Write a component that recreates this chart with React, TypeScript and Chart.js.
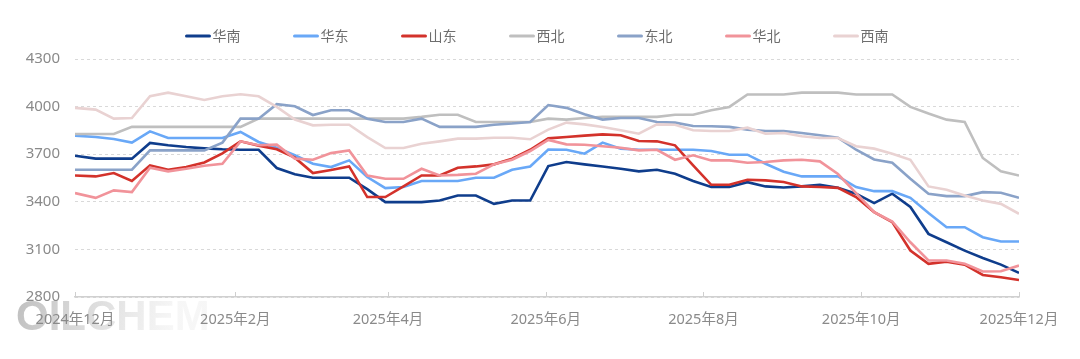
import React, { useEffect, useRef } from 'react';
import { Chart, registerables } from 'chart.js';

Chart.register(...registerables);

// Observation dates (first point, then weekly)
const dates = [
  '2024-12-01', '2024-12-09', '2024-12-16', '2024-12-23', '2024-12-30',
  '2025-01-06', '2025-01-13', '2025-01-20', '2025-01-27',
  '2025-02-03', '2025-02-10', '2025-02-17', '2025-02-24',
  '2025-03-03', '2025-03-10', '2025-03-17', '2025-03-24', '2025-03-31',
  '2025-04-07', '2025-04-14', '2025-04-21', '2025-04-28',
  '2025-05-05', '2025-05-12', '2025-05-19', '2025-05-26',
  '2025-06-02', '2025-06-09', '2025-06-16', '2025-06-23', '2025-06-30',
  '2025-07-07', '2025-07-14', '2025-07-21', '2025-07-28',
  '2025-08-04', '2025-08-11', '2025-08-18', '2025-08-25',
  '2025-09-01', '2025-09-08', '2025-09-15', '2025-09-22', '2025-09-29',
  '2025-10-06', '2025-10-13', '2025-10-20', '2025-10-27',
  '2025-11-03', '2025-11-10', '2025-11-17', '2025-11-24',
  '2025-12-01',
];

const monthTickDates = ['2024-12-01', '2025-02-01', '2025-04-01', '2025-06-01', '2025-08-01', '2025-10-01', '2025-12-01'];
const monthTickLabels = ['2024年12月', '2025年2月', '2025年4月', '2025年6月', '2025年8月', '2025年10月', '2025年12月'];

const yMin = 2800;
const yMax = 4300;
const yStep = 300;

const seriesNames = ['华南', '华东', '山东', '西北', '东北', '华北', '西南'];
const seriesColors = ['#0f3d8c', '#69a8f7', '#d3322b', '#bfbfbf', '#8aa2c8', '#f1939a', '#e9d2d2'];

const huanan = [3690, 3672, 3672, 3672, 3771, 3756, 3745, 3737, 3731, 3728, 3728, 3613, 3573, 3552, 3552, 3552, 3480, 3398, 3398, 3398, 3408, 3440, 3440, 3387, 3408, 3408, 3625, 3651, 3636, 3623, 3608, 3592, 3602, 3577, 3531, 3493, 3493, 3524, 3497, 3490, 3497, 3507, 3488, 3451, 3392, 3451, 3367, 3198, 3145, 3092, 3046, 3004, 2952];
const huadong = [3817, 3808, 3796, 3773, 3844, 3802, 3802, 3802, 3802, 3840, 3777, 3741, 3693, 3640, 3619, 3661, 3556, 3486, 3493, 3531, 3531, 3531, 3552, 3552, 3602, 3623, 3730, 3728, 3703, 3773, 3735, 3728, 3728, 3728, 3728, 3720, 3697, 3697, 3640, 3590, 3560, 3560, 3560, 3493, 3467, 3467, 3425, 3329, 3240, 3240, 3177, 3150, 3150];
const shandong = [3566, 3560, 3581, 3531, 3630, 3602, 3619, 3648, 3705, 3781, 3754, 3731, 3678, 3581, 3600, 3623, 3430, 3430, 3497, 3566, 3566, 3615, 3623, 3636, 3672, 3728, 3800, 3808, 3817, 3825, 3819, 3783, 3781, 3756, 3630, 3507, 3507, 3539, 3535, 3525, 3497, 3493, 3488, 3430, 3335, 3272, 3093, 3009, 3023, 3004, 2939, 2924, 2907];
const xibei = [3827, 3827, 3827, 3872, 3872, 3872, 3872, 3872, 3872, 3872, 3924, 3924, 3924, 3924, 3924, 3924, 3924, 3924, 3924, 3935, 3949, 3949, 3903, 3903, 3903, 3903, 3924, 3918, 3928, 3935, 3935, 3935, 3935, 3949, 3949, 3977, 3998, 4076, 4076, 4076, 4088, 4088, 4088, 4076, 4076, 4076, 3998, 3956, 3918, 3903, 3676, 3592, 3566];
const dongbei = [3602, 3602, 3602, 3602, 3724, 3724, 3724, 3724, 3773, 3924, 3924, 4015, 4002, 3947, 3977, 3977, 3924, 3903, 3903, 3924, 3872, 3872, 3872, 3886, 3893, 3903, 4010, 3992, 3952, 3918, 3928, 3928, 3903, 3899, 3878, 3876, 3872, 3855, 3846, 3846, 3834, 3819, 3804, 3728, 3667, 3646, 3545, 3451, 3436, 3436, 3461, 3457, 3425];
const huabei = [3455, 3425, 3472, 3461, 3615, 3592, 3608, 3627, 3640, 3781, 3756, 3760, 3672, 3665, 3707, 3724, 3566, 3545, 3545, 3608, 3566, 3570, 3577, 3636, 3665, 3720, 3790, 3762, 3760, 3750, 3741, 3724, 3728, 3665, 3693, 3661, 3661, 3646, 3651, 3661, 3665, 3655, 3575, 3455, 3335, 3276, 3145, 3030, 3030, 3009, 2961, 2962, 2998];
const xinan = [3992, 3981, 3924, 3928, 4065, 4088, 4065, 4042, 4065, 4078, 4065, 3998, 3918, 3882, 3886, 3886, 3808, 3739, 3739, 3766, 3781, 3798, 3798, 3804, 3804, 3794, 3855, 3899, 3888, 3872, 3851, 3829, 3888, 3886, 3851, 3846, 3846, 3867, 3829, 3834, 3813, 3802, 3802, 3750, 3735, 3703, 3665, 3497, 3476, 3440, 3408, 3387, 3324];

const seriesValues = [huanan, huadong, shandong, xibei, dongbei, huabei, xinan];

const FONT = '"Noto Sans", "Noto Sans CJK SC", sans-serif';
const LABEL_COLOR = '#8a8a8a';

const toUTC = (s: string) => Date.UTC(+s.slice(0, 4), +s.slice(5, 7) - 1, +s.slice(8, 10));
const dayOf = (s: string) => (toUTC(s) - toUTC(monthTickDates[0])) / 86400000;

const watermarkPlugin = {
  id: 'watermark',
  beforeDraw(chart: any) {
    const ctx = chart.ctx;
    ctx.save();
    ctx.font = 'bold 42px "Liberation Sans", sans-serif';
    const g = ctx.createLinearGradient(18, 296, 170, 336);
    g.addColorStop(0, 'rgba(185,185,185,0.9)');
    g.addColorStop(0.6, 'rgba(215,215,215,0.7)');
    g.addColorStop(1, 'rgba(238,238,238,0.5)');
    ctx.fillStyle = g;
    ctx.textBaseline = 'alphabetic';
    ctx.textAlign = 'left';
    ctx.fillText('OILCHEM', 16, 330);
    ctx.restore();
  },
};

const axisTickPlugin = {
  id: 'axisTicksUp',
  afterDraw(chart: any) {
    const ctx = chart.ctx;
    const xs = chart.scales.x;
    const bottom = chart.chartArea.bottom;
    ctx.save();
    ctx.strokeStyle = '#cfcfcf';
    ctx.lineWidth = 1;
    xs.ticks.forEach((t: any) => {
      const px = Math.round(xs.getPixelForValue(t.value)) + 0.5;
      ctx.beginPath();
      ctx.moveTo(px, bottom);
      ctx.lineTo(px, bottom - 5);
      ctx.stroke();
    });
    ctx.restore();
  },
};

const legendPlugin = {
  id: 'topLegend',
  afterDraw(chart: any) {
    const ctx = chart.ctx;
    const ds = chart.data.datasets;
    const lineW = 25;
    const gapText = 2;
    const gapItem = 53;
    const y = 36;
    ctx.save();
    ctx.font = `14px ${FONT}`;
    const widths = ds.map((d: any) => lineW + gapText + ctx.measureText(d.label).width);
    const total = widths.reduce((a: number, b: number) => a + b, 0) + gapItem * (ds.length - 1);
    let x = 537 - total / 2;
    ds.forEach((d: any, i: number) => {
      ctx.strokeStyle = d.borderColor;
      ctx.lineWidth = 3;
      ctx.lineCap = 'round';
      ctx.beginPath();
      ctx.moveTo(x + 1, y);
      ctx.lineTo(x + lineW - 1, y);
      ctx.stroke();
      ctx.fillStyle = '#6e6e6e';
      ctx.textBaseline = 'middle';
      ctx.textAlign = 'left';
      ctx.fillText(d.label, x + lineW + gapText, y + 1);
      x += widths[i] + gapItem;
    });
    ctx.restore();
  },
};

export default function App() {
  const canvasRef = useRef<HTMLCanvasElement | null>(null);

  useEffect(() => {
    document.body.style.margin = '0';
    const canvas = canvasRef.current;
    if (!canvas) return;
    const n = seriesNames.length;
    const chart = new Chart(canvas, {
      type: 'line',
      data: {
        datasets: seriesNames.map((name, i) => ({
          label: name,
          data: dates.map((d, j) => ({ x: dayOf(d), y: seriesValues[i][j] })),
          borderColor: seriesColors[i],
          backgroundColor: seriesColors[i],
          borderWidth: 2.6,
          pointRadius: 0,
          pointHoverRadius: 0,
          tension: 0,
          fill: false,
          order: n - i,
        })),
      },
      options: {
        animation: false,
        responsive: false,
        events: [],
        layout: { padding: { top: 59, right: 61, left: 0, bottom: 0 } },
        plugins: {
          legend: { display: false },
          tooltip: { enabled: false },
        },
        scales: {
          x: {
            type: 'linear',
            min: dayOf(monthTickDates[0]),
            max: dayOf(monthTickDates[monthTickDates.length - 1]),
            afterBuildTicks: (scale: any) => {
              scale.ticks = monthTickDates.map((d) => ({ value: dayOf(d) }));
            },
            afterFit: (scale: any) => {
              scale.height = 62;
            },
            ticks: {
              autoSkip: false,
              maxRotation: 0,
              padding: 14,
              color: LABEL_COLOR,
              font: { family: FONT, size: 14.5 },
              callback: (_v: any, idx: number) => monthTickLabels[idx],
            },
            grid: { display: false, drawTicks: false },
            border: { display: true, color: '#d0d0d0', width: 1.5 },
          },
          y: {
            min: yMin,
            max: yMax,
            afterFit: (scale: any) => {
              scale.width = 75;
            },
            ticks: {
              stepSize: yStep,
              padding: 15,
              color: LABEL_COLOR,
              font: { family: FONT, size: 15 },
              callback: (v: any) => String(v),
            },
            grid: { color: '#d9d9d9', drawTicks: false, lineWidth: 1 },
            border: { display: false, dash: [3, 3] },
          },
        },
      },
      plugins: [watermarkPlugin, axisTickPlugin, legendPlugin],
    });
    return () => chart.destroy();
  }, []);

  return (
    <div style={{ width: 1080, height: 359 }}>
      <canvas ref={canvasRef} width={1080} height={359} style={{ display: 'block' }} />
    </div>
  );
}
